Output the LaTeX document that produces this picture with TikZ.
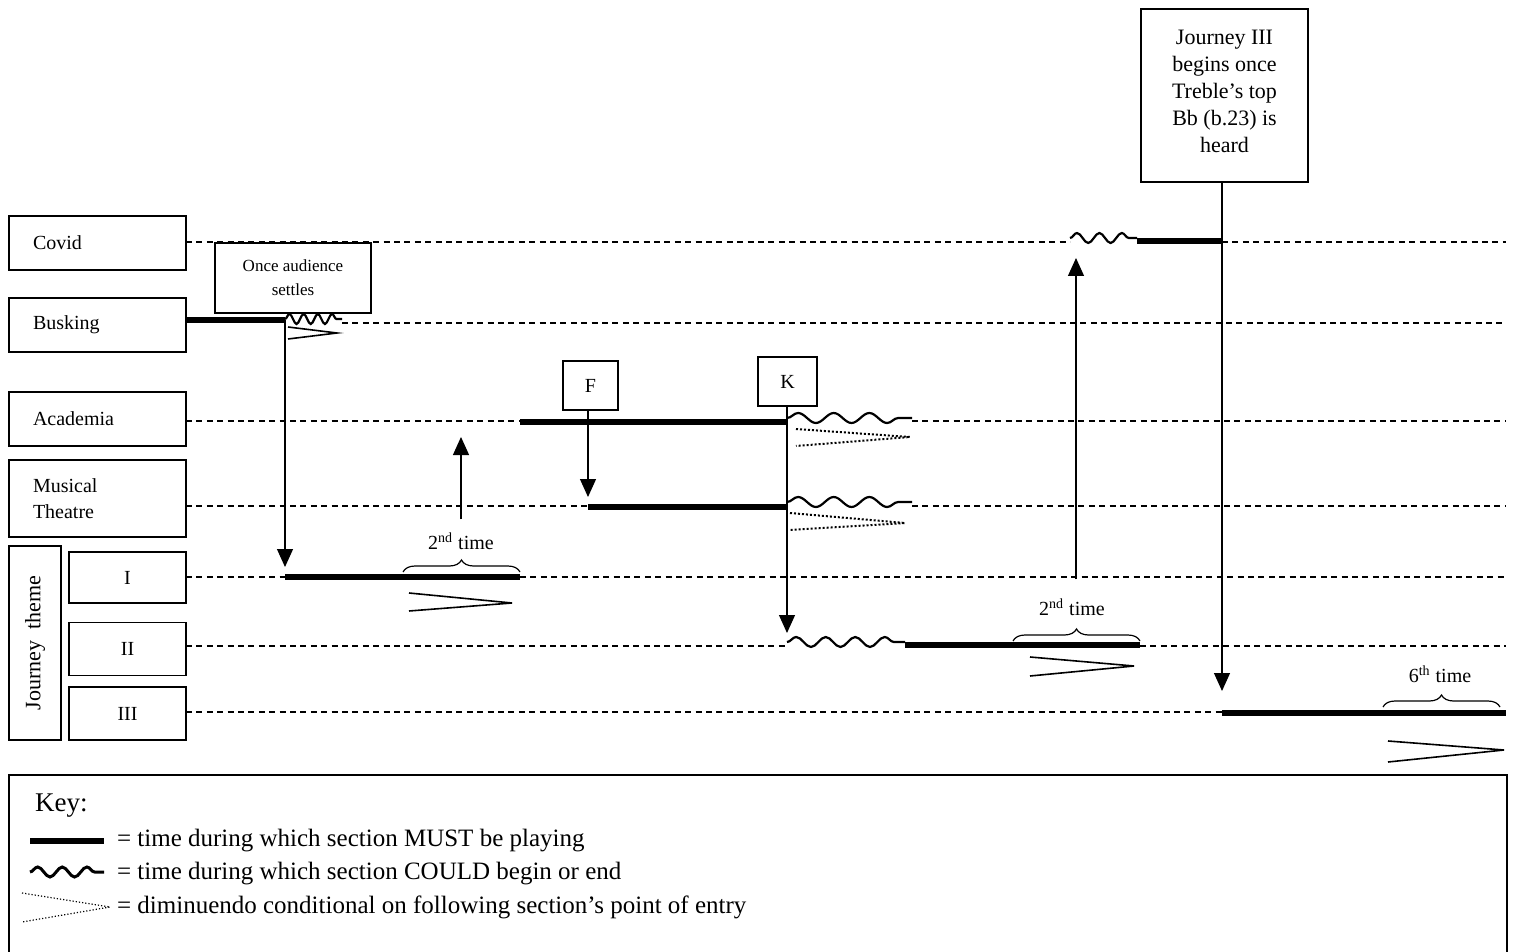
\documentclass[tikz,border=0pt]{standalone}
\usepackage{fontspec}
\setmainfont{Liberation Serif}
\usetikzlibrary{arrows.meta,decorations.pathmorphing,decorations.pathreplacing}

\tikzset{
  lanebox/.style={draw, line width=0.8pt, inner sep=0pt, minimum height=27pt},
  lanetext/.style={minimum width=88.5pt, text width=64.5pt, align=left},
  partbox/.style={draw, line width=0.8pt, inner sep=0pt, minimum width=58.5pt, minimum height=26.5pt},
  notebox/.style={draw, line width=0.8pt, inner sep=0pt, align=center},
  lane/.style={dash pattern=on 3pt off 2.2pt, line width=0.7pt},
  mustplay/.style={line width=3.2pt},
  couldplay/.style={line width=1.1pt, decorate, decoration={snake, segment length=#1, amplitude=2.5pt}},
  couldplay/.default=15pt,
  dimsolid/.style={line width=0.8pt},
  dimcond/.style={line width=1pt, densely dotted},
  arr/.style={line width=0.6pt, -{Triangle[width=8pt,length=9pt]}},
  timebrace/.style={line width=0.6pt, decorate, decoration={brace, amplitude=6pt}}
}

\begin{document}
\begin{tikzpicture}[x=0.5pt, y=-0.5pt, font=\fontsize{10}{13}\selectfont]
\useasboundingbox (0,0) rectangle (1516,952);

% section names
\node[lanebox, lanetext] (covid) at (97.5,243) {Covid};
\node[lanebox, lanetext] (busking) at (97.5,325) {Busking};
\node[lanebox, lanetext] (academia) at (97.5,419) {Academia};
\node[lanebox, lanetext, minimum height=38.5pt] (musical) at (97.5,498.5) {Musical\\Theatre};
\node[draw, line width=0.8pt, rotate=90, minimum width=97pt, minimum height=26pt, inner sep=0pt, font=\fontsize{11}{13}\selectfont] (journey) at (35,643) {Journey\ \ theme};
\node[partbox, minimum height=25.5pt] (jI) at (127.5,577.5) {I};
\node[partbox] (jII) at (127.5,649) {II};
\node[partbox] (jIII) at (127.5,713.5) {III};

% cue boxes
\node[notebox, minimum width=78pt, minimum height=35pt, font=\fontsize{8.5}{12}\selectfont] (settles) at (293,278) {Once audience\\settles};
\node[notebox, minimum width=27.5pt, minimum height=24.5pt] (cueF) at (590.5,385.5) {F};
\node[notebox, minimum width=29.5pt, minimum height=24.5pt] (cueK) at (787.5,381.5) {K};
\node[notebox, minimum width=83.5pt, minimum height=86.5pt] (treble) at (1224.5,95.5) {};
\node[align=center, font=\fontsize{11}{13.5}\selectfont] (trebletext) at (1224.5,91) {Journey III\\begins once\\Treble’s top\\Bb (b.23) is\\heard};

% Covid
\draw[lane] (186,242) -- (1070,242);
\draw[couldplay=11.2pt] (1070,238) -- (1137,238);
\draw[mustplay] (1137,241) -- (1222,241);
\draw[lane] (1222,242) -- (1506,242);
% Busking
\draw[mustplay] (186,320) -- (285,320);
\draw[couldplay=7.1pt] (285,319) -- (342,319);
\draw[lane] (342,323) -- (1506,323);
\draw[dimsolid] (288,327) -- (337,333) -- (288,339);
% Academia
\draw[lane] (186,421) -- (520,421);
\draw[mustplay] (520,422) -- (787,422);
\draw[couldplay=17.8pt] (787,418) -- (912,418);
\draw[lane] (912,421) -- (1506,421);
\draw[dimcond] (796,429) -- (910,437) -- (796,446);
% Musical Theatre
\draw[lane] (186,506) -- (588,506);
\draw[mustplay] (588,507) -- (787,507);
\draw[couldplay=17.8pt] (787,502) -- (912,502);
\draw[lane] (912,506) -- (1506,506);
\draw[dimcond] (790,513) -- (905,523) -- (790,530);
% Journey I
\draw[lane] (186,577) -- (285,577);
\draw[mustplay] (285,577) -- (520,577);
\draw[lane] (520,577) -- (1506,577);
\draw[timebrace] (403,572) -- (520,572);
\draw[dimsolid] (409,593) -- (512,603) -- (409,611);
\node (twiceI) at (461,541) {2\textsuperscript{nd} time};
% Journey II
\draw[lane] (186,646) -- (787,646);
\draw[couldplay=14.75pt] (787,642) -- (905,642);
\draw[mustplay] (905,645) -- (1140,645);
\draw[lane] (1140,646) -- (1506,646);
\draw[timebrace] (1013,641) -- (1140,641);
\draw[dimsolid] (1030,657) -- (1134,666) -- (1030,676);
\node (twiceII) at (1072,607) {2\textsuperscript{nd} time};
% Journey III
\draw[lane] (186,712) -- (1222,712);
\draw[mustplay] (1222,713) -- (1506,713);
\draw[timebrace] (1383,707) -- (1500,707);
\draw[dimsolid] (1388,741) -- (1504,750) -- (1388,762);
\node (sixth) at (1440,674) {6\textsuperscript{th} time};

% entries
\coordinate (bus-end) at (285,320);
\coordinate (jI-start) at (285,577);
\coordinate (mt-start) at (588,506);
\coordinate (jII-start) at (787,646);
\coordinate (acad-up) at (461,421);
\coordinate (covid-up) at (1076,242);
\coordinate (jIII-start) at (1222,712);
\draw[arr, shorten >=5pt] (bus-end) -- (jI-start);
\draw[arr, shorten >=4.5pt] (cueF.south -| mt-start) -- (mt-start);
\draw[arr, shorten >=6.5pt] (cueK.south -| jII-start) -- (jII-start);
\draw[arr, shorten >=8pt, shorten <=3pt] (twiceI.north -| acad-up) -- (acad-up);
\draw[arr, shorten >=8pt, shorten <=6pt] (twiceII.north -| covid-up) -- (covid-up);
\draw[arr, shorten >=10.5pt] (treble.south -| jIII-start) -- (jIII-start);

% key
\draw[line width=0.8pt] (9,952) -- (9,775) -- (1507,775) -- (1507,952);
\node[anchor=west, font=\fontsize{13.5}{16}\selectfont] (keyhead) at (28,806) {Key:};
\draw[mustplay] (30,841) -- (104,841);
\draw[line width=1.5pt, decorate, decoration={snake, segment length=12.3pt, amplitude=2.5pt}] (30,872) -- (104,872);
\draw[line width=0.6pt, densely dotted] (22,893) -- (110,907) -- (22,922);
\begin{scope}[font=\fontsize{12.5}{15}\selectfont]
\node[anchor=west] (keymust) at (110,841) {= time during which section MUST be playing};
\node[anchor=west] (keycould) at (110,874) {= time during which section COULD begin or end};
\node[anchor=west] (keydim) at (110,907) {= diminuendo conditional on following section’s point of entry};
\end{scope}
\end{tikzpicture}
\end{document}
